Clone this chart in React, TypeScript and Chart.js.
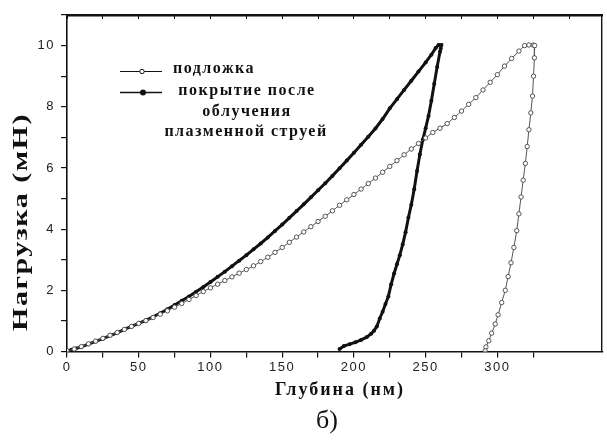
import React, { useEffect, useRef } from 'react';
import { Chart, registerables } from 'chart.js';

Chart.register(...registerables);

// Coating after plasma-jet irradiation: loading branch
const coatLoadDepth = [0, 3, 6, 10, 15, 20, 25, 30, 35, 40, 45, 50, 55, 60, 65, 70, 75, 80, 85, 90, 95, 100, 105, 110, 115, 120, 125, 130, 135, 140, 145, 150, 155, 160, 165, 170, 175, 180, 185, 190, 195, 200, 205, 210, 215, 220, 225, 230, 235, 240, 245, 250, 254, 257, 259, 261];
const coatLoadForce = [0.0, 0.06, 0.1, 0.15, 0.24, 0.33, 0.42, 0.52, 0.61, 0.72, 0.82, 0.92, 1.02, 1.13, 1.25, 1.38, 1.52, 1.66, 1.8, 1.95, 2.11, 2.27, 2.44, 2.61, 2.79, 2.97, 3.15, 3.34, 3.53, 3.73, 3.94, 4.15, 4.37, 4.59, 4.81, 5.04, 5.27, 5.5, 5.74, 5.99, 6.24, 6.5, 6.76, 7.02, 7.29, 7.6, 7.95, 8.25, 8.55, 8.85, 9.15, 9.45, 9.7, 9.92, 10.02, 10.02];
// Coating: unloading branch
const coatUnloadDepth = [260.5, 260, 258, 256, 254, 252, 250, 248, 246, 244, 242, 240, 238, 236, 234, 232, 230, 228, 226, 224, 222, 220, 218, 216, 214, 212, 209, 205, 201, 197, 193, 190];
const coatUnloadForce = [9.9, 9.8, 9.3, 8.75, 8.2, 7.7, 7.3, 6.92, 6.45, 5.9, 5.3, 4.8, 4.38, 3.9, 3.5, 3.15, 2.85, 2.55, 2.2, 1.8, 1.55, 1.3, 1.08, 0.82, 0.68, 0.58, 0.47, 0.38, 0.3, 0.24, 0.18, 0.08];

// Substrate: loading branch
const subLoadDepth = [0, 5, 10, 15, 20, 25, 30, 35, 40, 45, 50, 55, 60, 65, 70, 75, 80, 85, 90, 95, 100, 105, 110, 115, 120, 125, 130, 135, 140, 145, 150, 155, 160, 165, 170, 175, 180, 185, 190, 195, 200, 205, 210, 215, 220, 225, 230, 235, 240, 245, 250, 255, 260, 265, 270, 275, 280, 285, 290, 295, 300, 305, 310, 315, 319, 322, 325];
const subLoadForce = [0.02, 0.08, 0.16, 0.25, 0.34, 0.43, 0.53, 0.62, 0.72, 0.82, 0.92, 1.01, 1.11, 1.22, 1.33, 1.45, 1.57, 1.7, 1.83, 1.96, 2.08, 2.2, 2.32, 2.44, 2.56, 2.68, 2.8, 2.94, 3.08, 3.24, 3.4, 3.57, 3.74, 3.91, 4.08, 4.25, 4.42, 4.6, 4.78, 4.96, 5.13, 5.31, 5.49, 5.67, 5.86, 6.05, 6.24, 6.43, 6.62, 6.8, 6.98, 7.16, 7.3, 7.45, 7.65, 7.86, 8.08, 8.3, 8.55, 8.8, 9.05, 9.33, 9.58, 9.82, 10.0, 10.02, 10.02];
// Substrate: unloading branch
const subUnloadDepth = [326, 325.8, 325.2, 324.5, 323.3, 322, 320.8, 319.5, 318, 316.5, 315, 313.5, 311.5, 309.5, 307.5, 305.5, 303, 300.5, 298.5, 296, 294, 292, 291.5];
const subUnloadForce = [10.0, 9.6, 9.0, 8.35, 7.8, 7.25, 6.7, 6.15, 5.6, 5.05, 4.5, 3.95, 3.4, 2.9, 2.45, 2.0, 1.6, 1.2, 0.9, 0.6, 0.35, 0.15, 0.02];

const seriesNames = ['подложка', 'покрытие после облучения плазменной струей'];
const legendLines = [['подложка'], ['покрытие после', 'облучения', 'плазменной струей']];
const xTitle = 'Глубина (нм)';
const yTitle = 'Нагрузка (мН)';
const panelLabel = 'б)';
const xMax = 373;
const yMax = 11;

const toPoints = (xs: number[], ys: number[]) => xs.map((x, i) => ({ x, y: ys[i] }));

const textPlugin = {
  id: 'textPlugin',
  beforeDraw(chart: any) {
    (chart.ctx as any).letterSpacing = '1.5px';
  },
  afterDraw(chart: any) {
    const ctx = chart.ctx as any;
    ctx.save();
    ctx.fillStyle = '#111';
    ctx.strokeStyle = '#111';
    ctx.textBaseline = 'middle';

    // x axis title
    ctx.letterSpacing = '2px';
    ctx.font = 'bold 18px "Liberation Serif"';
    ctx.textAlign = 'center';
    ctx.fillText(xTitle, 340, 390);

    // y axis title
    ctx.save();
    ctx.translate(22, 222);
    ctx.rotate(-Math.PI / 2);
    ctx.scale(1.5, 1);
    ctx.letterSpacing = '1px';
    ctx.font = 'bold 20px "Liberation Serif"';
    ctx.fillText(yTitle, 0, 0);
    ctx.restore();

    // panel label
    ctx.letterSpacing = '0px';
    ctx.font = '26px "Liberation Serif"';
    ctx.fillText(panelLabel, 327, 421);

    // legend
    ctx.lineWidth = 1;
    ctx.beginPath();
    ctx.moveTo(120, 71.5);
    ctx.lineTo(162, 71.5);
    ctx.stroke();
    ctx.beginPath();
    ctx.arc(142, 71.5, 2.2, 0, Math.PI * 2);
    ctx.fillStyle = '#fff';
    ctx.fill();
    ctx.stroke();
    ctx.fillStyle = '#111';
    ctx.lineWidth = 1.5;
    ctx.beginPath();
    ctx.moveTo(120, 92.5);
    ctx.lineTo(162, 92.5);
    ctx.stroke();
    ctx.beginPath();
    ctx.arc(143, 92.5, 3, 0, Math.PI * 2);
    ctx.fill();

    ctx.letterSpacing = '1.5px';
    ctx.font = 'bold 16px "Liberation Serif"';
    ctx.textAlign = 'left';
    ctx.fillText(legendLines[0][0], 173, 69);
    ctx.textAlign = 'center';
    ctx.fillText(legendLines[1][0], 247, 91);
    ctx.fillText(legendLines[1][1], 247, 112);
    ctx.fillText(legendLines[1][2], 246, 132);
    ctx.restore();
  },
};

export default function App() {
  const ref = useRef<HTMLCanvasElement | null>(null);

  useEffect(() => {
    if (!ref.current) return;
    const substrate = [...toPoints(subLoadDepth, subLoadForce), ...toPoints(subUnloadDepth, subUnloadForce)];
    const coating = [...toPoints(coatLoadDepth, coatLoadForce), ...toPoints(coatUnloadDepth, coatUnloadForce)];
    const tickFont = { family: '"Liberation Sans"', size: 13 };
    const keep25 = (s: any) => { s.ticks = s.ticks.filter((t: any) => t.value % 25 === 0); };
    const keepInt = (s: any) => { s.ticks = s.ticks.filter((t: any) => Number.isInteger(t.value)); };
    const chart = new Chart(ref.current, {
      type: 'scatter',
      data: {
        datasets: [
          {
            label: seriesNames[0],
            data: substrate,
            showLine: true,
            borderColor: '#555',
            borderWidth: 1,
            pointRadius: 2.2,
            pointBackgroundColor: '#fff',
            pointBorderColor: '#444',
            pointBorderWidth: 0.9,
            tension: 0,
          },
          {
            label: seriesNames[1],
            data: coating,
            showLine: true,
            borderColor: '#111',
            borderWidth: 3,
            pointRadius: 2,
            pointBackgroundColor: '#111',
            pointBorderColor: '#111',
            pointBorderWidth: 0,
            tension: 0,
          },
        ],
      },
      options: {
        responsive: false,
        animation: false,
        layout: { padding: { top: 15, right: 3, left: 0, bottom: 0 } },
        plugins: { legend: { display: false }, tooltip: { enabled: false } },
        scales: {
          x: {
            type: 'linear',
            position: 'bottom',
            min: 0,
            max: xMax,
            afterBuildTicks: keep25,
            afterFit: (s: any) => { s.height = 90.5; },
            ticks: {
              stepSize: 25,
              maxTicksLimit: 30,
              autoSkip: false,
              maxRotation: 0,
              padding: 2,
              color: '#222',
              font: tickFont,
              callback: (v: any) => (v % 50 === 0 ? String(v) : ''),
            },
            grid: { drawOnChartArea: false, drawTicks: true, tickLength: 6, color: '#111', lineWidth: 1.2 },
            border: { color: '#111', width: 1.6 },
          },
          x2: {
            type: 'linear',
            position: 'top',
            min: 0,
            max: xMax,
            afterBuildTicks: keep25,
            afterFit: (s: any) => { s.height = 0; },
            ticks: { display: false, stepSize: 25, maxTicksLimit: 30 },
            grid: { drawOnChartArea: false, drawTicks: true, tickLength: -4, color: '#111', lineWidth: 1 },
            border: { color: '#111', width: 2.6 },
          },
          y: {
            type: 'linear',
            position: 'left',
            min: 0,
            max: yMax,
            afterBuildTicks: keepInt,
            afterFit: (s: any) => { s.width = 67; },
            ticks: {
              stepSize: 1,
              maxTicksLimit: 30,
              autoSkip: false,
              padding: 6,
              color: '#222',
              font: tickFont,
              callback: (v: any) => (v % 2 === 0 ? String(v) : ''),
            },
            grid: { drawOnChartArea: false, drawTicks: true, tickLength: 6, color: '#111', lineWidth: 1.2 },
            border: { color: '#111', width: 1.6 },
          },
          y2: {
            type: 'linear',
            position: 'right',
            min: 0,
            max: yMax,
            afterFit: (s: any) => { s.width = 0; },
            ticks: { display: false },
            grid: { drawOnChartArea: false, drawTicks: false },
            border: { color: '#111', width: 1.4 },
          },
        },
      },
      plugins: [textPlugin],
    });
    return () => chart.destroy();
  }, []);

  return (
    <div style={{ position: 'absolute', left: 0, top: 0, width: 607, height: 442, background: '#fff' }}>
      <canvas ref={ref} width={607} height={442} style={{ display: 'block' }} />
    </div>
  );
}
